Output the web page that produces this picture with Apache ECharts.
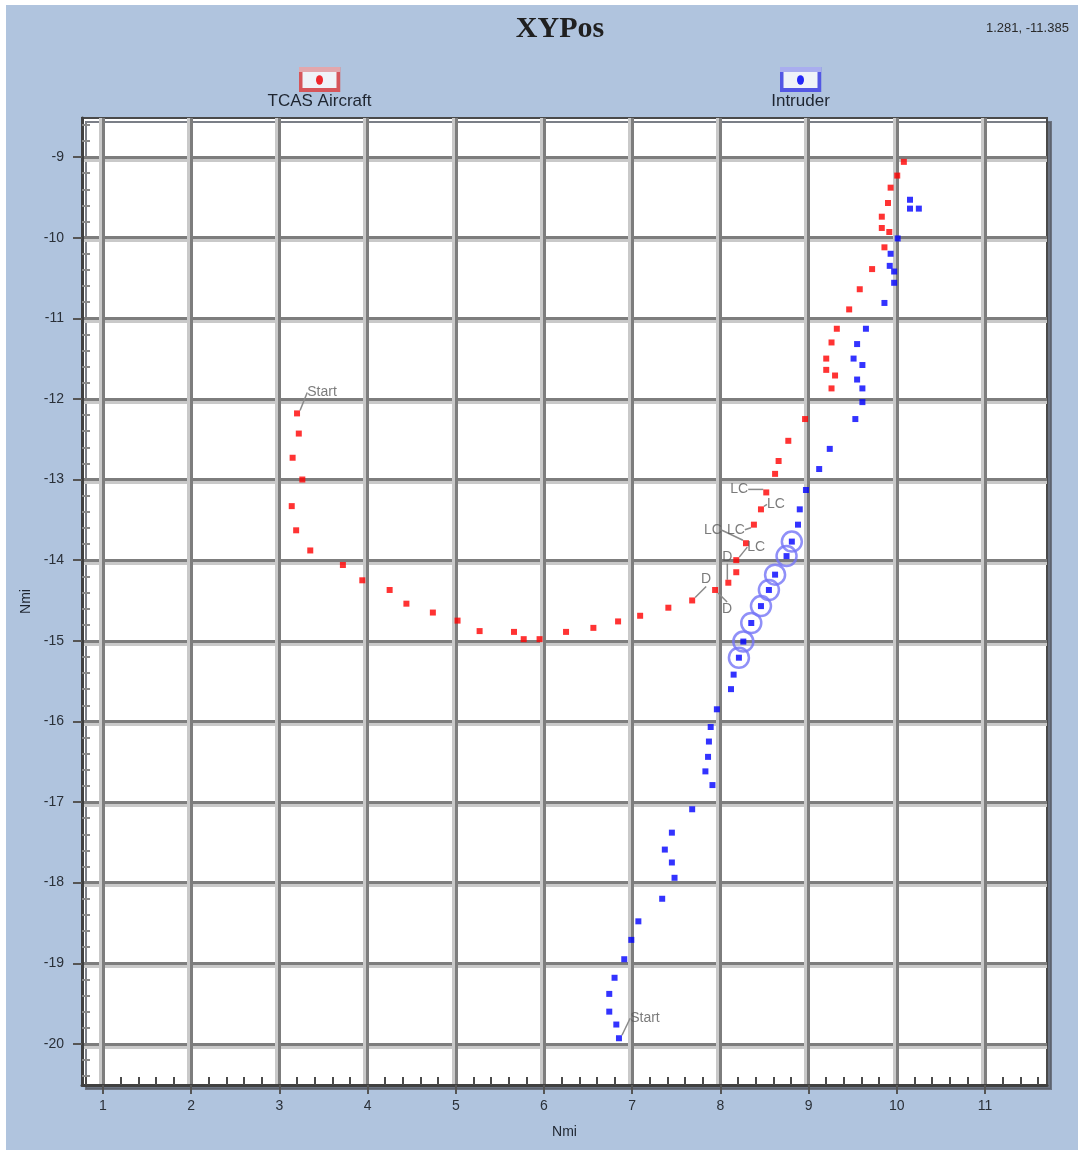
<!DOCTYPE html>
<html><head><meta charset="utf-8">
<script src="https://cdn.jsdelivr.net/npm/echarts@6/dist/echarts.min.js"></script>
<style>
html,body{margin:0;padding:0;background:#fff;width:1078px;height:1150px;overflow:hidden}
#c{position:absolute;left:6px;top:5px;width:1072px;height:1145px}
</style>
</head><body><div id="c"></div>
<script>
// ---------------- data ----------------
const xTickValues = [1, 2, 3, 4, 5, 6, 7, 8, 9, 10, 11];
const yTickValues = [-20, -19, -18, -17, -16, -15, -14, -13, -12, -11, -10, -9];

const tcasX = [3.20, 3.22, 3.15, 3.26, 3.14, 3.19, 3.35, 3.72, 3.94, 4.25, 4.44, 4.74, 5.02, 5.27, 5.66, 5.77, 5.95,
  6.25, 6.56, 6.84, 7.09, 7.41, 7.68, 7.94, 8.09, 8.18, 8.18, 8.29, 8.38, 8.46, 8.52, 8.62, 8.66, 8.77, 8.96,
  9.26, 9.30, 9.20, 9.20, 9.26, 9.32, 9.46, 9.58, 9.72, 9.86, 9.915, 9.83, 9.83, 9.90, 9.93, 10.005, 10.08];
const tcasY = [-12.18, -12.43, -12.73, -13.00, -13.33, -13.63, -13.88, -14.06, -14.25, -14.37, -14.54, -14.65, -14.75, -14.88, -14.89, -14.98, -14.98,
  -14.89, -14.84, -14.76, -14.69, -14.59, -14.50, -14.37, -14.28, -14.15, -14.00, -13.79, -13.56, -13.37, -13.16, -12.93, -12.77, -12.52, -12.25,
  -11.87, -11.71, -11.64, -11.50, -11.30, -11.13, -10.89, -10.64, -10.39, -10.12, -9.93, -9.88, -9.74, -9.57, -9.38, -9.23, -9.06];

const intrX = [6.85, 6.82, 6.74, 6.74, 6.80, 6.91, 6.99, 7.07, 7.34, 7.48, 7.45, 7.37, 7.45, 7.68, 7.91, 7.83, 7.86, 7.87, 7.89, 7.96,
  8.12, 8.15, 8.21, 8.26, 8.35, 8.46, 8.55, 8.62, 8.75, 8.81, 8.88, 8.90, 8.97, 9.12, 9.24, 9.53,
  9.61, 9.61, 9.55, 9.61, 9.51, 9.55, 9.65, 9.86, 9.97, 9.97, 9.92, 9.93, 10.01, 10.15, 10.25, 10.15];
const intrY = [-19.93, -19.76, -19.60, -19.38, -19.18, -18.95, -18.71, -18.48, -18.20, -17.94, -17.75, -17.59, -17.38, -17.09, -16.79, -16.62, -16.44, -16.25, -16.07, -15.85,
  -15.60, -15.42, -15.21, -15.01, -14.78, -14.57, -14.37, -14.18, -13.95, -13.77, -13.56, -13.37, -13.13, -12.87, -12.62, -12.25,
  -12.04, -11.87, -11.76, -11.58, -11.50, -11.32, -11.13, -10.81, -10.56, -10.42, -10.35, -10.20, -10.01, -9.64, -9.64, -9.53];

// annotation texts (by point index)
const tcasNotes = {0: 'Start', 22: 'D', 23: 'D', 24: 'D', 26: 'LC', 27: 'LC', 28: 'LC', 29: 'LC', 30: 'LC'};
const intrNotes = {0: 'Start'};
// intruder points flagged (circled)
const intrFlagged = [22, 23, 24, 25, 26, 27, 28, 29];

// ---------------- layout / style ----------------
const tcasNoteOffset = {0: [25, -21], 22: [14, -21], 23: [12, 19], 24: [-1, -26], 26: [20, -13],
  27: [-33, -13], 28: [-18, 5], 29: [15, -5], 30: [-27, -3]};
const intrNoteOffset = {0: [26, -20]};

const FONT = '"Liberation Sans", Arial, sans-serif';
const AX_MIN_X = 0.762, AX_MAX_X = 11.703, AX_MIN_Y = -20.51, AX_MAX_Y = -8.516;

const xMinor = [], yMinor = [];
for (let i = 4; i <= 58; i++) if (i % 5 !== 0) xMinor.push(i / 5);
for (let i = -102; i <= -43; i++) if (i % 5 !== 0) yMinor.push(i / 5);

function pts(xs, ys, notes) {
  return xs.map((x, i) => {
    const item = {value: [x, ys[i]]};
    if (notes && notes[i]) item.label = {show: true, formatter: notes[i]};
    return item;
  });
}

function measure(text, font) {
  const ctx = document.createElement('canvas').getContext('2d');
  ctx.font = font;
  return ctx.measureText(text).width;
}

function svgIcon(border, top, dot) {
  const svg = `<svg xmlns='http://www.w3.org/2000/svg' width='42' height='25'>` +
    `<rect x='0' y='0' width='42' height='25' fill='${border}'/>` +
    `<rect x='0' y='0' width='42' height='5' fill='${top}'/>` +
    `<rect x='4' y='5' width='34' height='16' fill='#ffffff'/>` +
    `<ellipse cx='21' cy='13' rx='3.5' ry='4.8' fill='${dot}'/></svg>`;
  return 'image://data:image/svg+xml;utf8,' + encodeURIComponent(svg);
}

const LEG_SIZE = 17, LEG_LH = 22, ICON_W = 42, ICON_H = 25;
function makeLegend(name, icon, centerX, iconTop) {
  const w = measure(name, LEG_SIZE + 'px ' + FONT);
  const pl = (ICON_W / 2 - w / 2) - (ICON_W + 5);
  const blockH = 3 * LEG_LH;
  const boundTop = ICON_H / 2 - blockH / 2; // relative to icon top (negative)
  return {
    data: [{name: name, icon: icon}],
    formatter: n => '\n\n' + n,
    left: Math.min(centerX - ICON_W / 2, centerX - w / 2),
    top: iconTop + boundTop, padding: 0, itemWidth: ICON_W, itemHeight: ICON_H,
    selectedMode: false,
    textStyle: {fontFamily: FONT, fontSize: LEG_SIZE, color: '#1e2530', lineHeight: LEG_LH, padding: [0, 0, 0, pl]}
  };
}

const labelBase = {show: false, position: 'inside', color: '#5a5a5a', fontFamily: FONT, fontSize: 14};
const labelLineBase = {show: true, lineStyle: {color: '#8a8a8a', width: 1.5}};

const chart = echarts.init(document.getElementById('c'));
chart.setOption({
  backgroundColor: '#b0c4de',
  animation: false,
  title: [
    {text: 'XYPos', left: 549, top: 4, textAlign: 'center',
     textStyle: {fontFamily: '"Liberation Serif", "Times New Roman", serif', fontSize: 30, fontWeight: 'bold', color: '#202020'}},
    {text: '1.281, -11.385', left: 975, top: 12,
     textStyle: {fontFamily: FONT, fontSize: 13, fontWeight: 'normal', color: '#2a2a2a'}}
  ],
  legend: [
    makeLegend('TCAS Aircraft', svgIcon('#e03a3a', '#f0a0a0', '#ff0000'), 313.5, 62),
    makeLegend('Intruder', svgIcon('#3c3ce6', '#a8a8f4', '#0000ff'), 794.5, 62)
  ],
  grid: {
    left: 76, top: 113, right: 31, bottom: 65, show: true,
    backgroundColor: '#ffffff', borderColor: '#4a4a4a', borderWidth: 2,
    shadowColor: 'rgba(90,95,105,0.8)', shadowBlur: 0, shadowOffsetX: 4, shadowOffsetY: 4
  },
  xAxis: [
    {type: 'value', min: AX_MIN_X, max: AX_MAX_X, position: 'bottom',
     name: 'Nmi', nameLocation: 'middle', nameGap: 40,
     nameTextStyle: {fontFamily: FONT, fontSize: 14, color: '#1e2530'},
     axisLine: {show: true, lineStyle: {color: '#404040', width: 3}},
     axisTick: {show: true, inside: false, length: 9, customValues: xTickValues, lineStyle: {color: '#555', width: 2}},
     axisLabel: {show: true, margin: 14, customValues: xTickValues, fontFamily: FONT, fontSize: 14, color: '#2a3038'},
     splitLine: {show: true, lineStyle: {color: '#7d7d7d', width: 3, shadowColor: '#c9c9c9', shadowBlur: 0, shadowOffsetX: -3}}},
    {type: 'value', min: AX_MIN_X, max: AX_MAX_X, position: 'bottom',
     axisLine: {show: false}, axisLabel: {show: false}, splitLine: {show: false},
     axisTick: {show: true, inside: true, length: 8, customValues: xMinor, lineStyle: {color: '#4a4a4a', width: 2}}}
  ],
  yAxis: [
    {type: 'value', min: AX_MIN_Y, max: AX_MAX_Y, position: 'left',
     name: 'Nmi', nameLocation: 'middle', nameGap: 48, nameRotate: 90,
     nameTextStyle: {fontFamily: FONT, fontSize: 14, color: '#1e2530'},
     axisLine: {show: true, lineStyle: {color: '#404040', width: 3}},
     axisTick: {show: true, inside: false, length: 9, customValues: yTickValues, lineStyle: {color: '#555', width: 2}},
     axisLabel: {show: true, margin: 18, customValues: yTickValues, fontFamily: FONT, fontSize: 14, color: '#2a3038'},
     splitLine: {show: true, lineStyle: {color: '#7d7d7d', width: 3, shadowColor: '#c9c9c9', shadowBlur: 0, shadowOffsetY: 3}}},
    {type: 'value', min: AX_MIN_Y, max: AX_MAX_Y, position: 'left',
     axisLine: {show: false}, axisLabel: {show: false}, splitLine: {show: false},
     axisTick: {show: true, inside: true, length: 8, customValues: yMinor, lineStyle: {color: '#8a8a8a', width: 2}}}
  ],
  series: [
    {name: 'Intruder', type: 'scatter', xAxisIndex: 0, yAxisIndex: 0, z: 2,
     symbol: 'circle', symbolSize: 20, silent: true,
     itemStyle: {color: 'rgba(0,0,0,0)', borderColor: '#7474f6', borderWidth: 2.5},
     data: intrFlagged.map(i => [intrX[i], intrY[i]])},
    {name: 'TCAS Aircraft', type: 'scatter', xAxisIndex: 0, yAxisIndex: 0, z: 3,
     symbol: 'rect', symbolSize: 6, itemStyle: {color: '#ff0000'},
     label: labelBase, labelLine: labelLineBase,
     labelLayout: p => { const o = tcasNoteOffset[p.dataIndex]; return o ? {dx: o[0], dy: o[1]} : {}; },
     data: pts(tcasX, tcasY, tcasNotes)},
    {name: 'Intruder', type: 'scatter', xAxisIndex: 0, yAxisIndex: 0, z: 3,
     symbol: 'rect', symbolSize: 6, itemStyle: {color: '#0000ff'},
     label: labelBase, labelLine: labelLineBase,
     labelLayout: p => { const o = intrNoteOffset[p.dataIndex]; return o ? {dx: o[0], dy: o[1]} : {}; },
     data: pts(intrX, intrY, intrNotes)}
  ]
});
</script>
</body></html>
